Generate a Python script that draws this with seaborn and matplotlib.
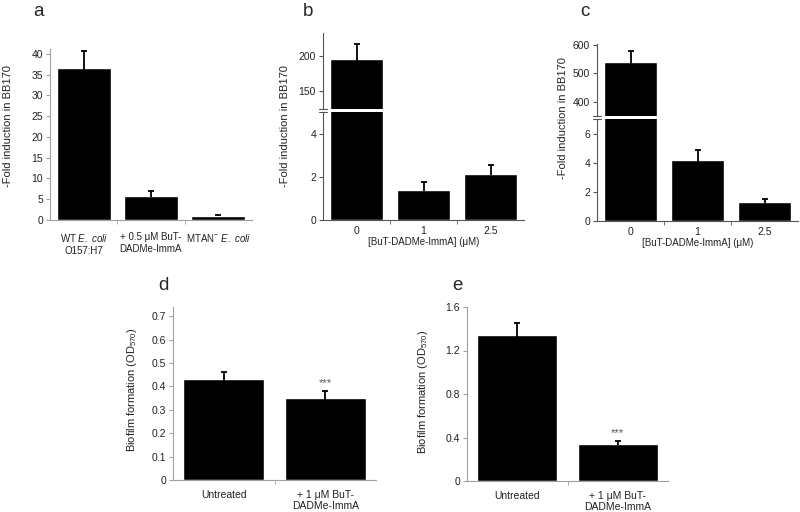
import matplotlib
matplotlib.use("Agg")
import matplotlib.pyplot as plt
import seaborn as sns
import numpy as np

sns.set_style("white")
plt.rcParams['font.family'] = ['Liberation Sans', 'DejaVu Sans']
plt.rcParams['mathtext.fontset'] = 'custom'
plt.rcParams['mathtext.rm'] = 'Liberation Sans'
plt.rcParams['mathtext.it'] = 'Liberation Sans:italic'

# ---- data ----
a_labels = ["WT $\\it{E.\\ coli}$\nO157:H7", "+ 0.5 \u03bcM BuT-\nDADMe-ImmA", "MTAN$^{-}$ $\\it{E.\\ coli}$"]
a_vals = [36.7, 5.7, 1.0]
a_err = [3.9, 1.4, 0.25]

conc_labels = ["0", "1", "2.5"]
b_vals = [196, 1.4, 2.15]
b_err = [21, 0.37, 0.4]
c_vals = [540, 4.2, 1.3]
c_err = [39, 0.7, 0.2]

bio_labels = ["Untreated", "+ 1 \u03bcM BuT-\nDADMe-ImmA"]
d_vals = [0.43, 0.35]
d_err = [0.032, 0.03]
e_vals = [1.34, 0.34]
e_err = [0.11, 0.03]

W, H = 800, 512
fig = plt.figure(figsize=(W / 100, H / 100), dpi=100)


def add_ax(l, t, r, b):
    return fig.add_axes([l / W, 1 - b / H, (r - l) / W, (b - t) / H])


def bars(ax, labels, vals, errs, spine_col, pad, tickfs=7.5, xfs=7.5):
    sns.barplot(x=labels, y=vals, ax=ax, color="black", width=0.8,
                errorbar=None, saturation=1)
    # upper error bars only, cap on top
    xs = np.arange(len(vals))
    tops = np.array(vals) + np.array(errs)
    ax.vlines(xs, np.array(vals) * 0.97, tops, color="black", lw=1.3)
    ax.scatter(xs, tops, marker="_", s=18, color="black", linewidths=1.3,
               zorder=3)
    ax.set_xlim(-0.5, len(vals) - 0.5)
    sns.despine(ax=ax)
    for s in ["left", "bottom"]:
        ax.spines[s].set_color(spine_col)
        ax.spines[s].set_linewidth(0.8)
    ax.set_xticks(np.arange(0.5, len(vals) - 0.5), minor=True)
    ax.tick_params(axis="x", which="major", length=0, pad=pad,
                   labelsize=xfs, labelcolor="#222222")
    ax.tick_params(axis="x", which="minor", length=3, color=spine_col,
                   direction="out", bottom=True)
    ax.tick_params(axis="y", length=3, color=spine_col, direction="out",
                   left=True, labelsize=tickfs, labelcolor="#222222", pad=2)
    ax.set_ylabel("")
    ax.set_xlabel("")


def fmt0(v):
    return "0" if v == 0 else ("%g" % v)


# ---- panel a ----
ax = add_ax(50, 49, 252, 220)
bars(ax, a_labels, a_vals, a_err, "#a0a0a0", 9, xfs=7)
ax.set_ylim(0, 41.2)
ax.set_yticks(range(0, 41, 5))


def broken(ax_up, ax_lo, labels, vals, errs, up_lim, up_ticks, lo_lim, lo_ticks):
    bars(ax_up, labels, vals, errs, "#555555", 4)
    bars(ax_lo, labels, vals, errs, "#555555", 4)
    ax_up.set_ylim(*up_lim)
    ax_up.set_yticks(up_ticks)
    ax_up.spines["bottom"].set_visible(False)
    ax_up.set_xticks([])
    ax_up.set_xticks([], minor=True)
    ax_lo.set_ylim(*lo_lim)
    ax_lo.set_yticks(lo_ticks)
    for a_, y in [(ax_up, 0), (ax_lo, 1)]:
        a_.plot([-0.02, 0.02], [y, y], transform=a_.transAxes,
                color="#555555", lw=0.8, clip_on=False)
    ax_lo.set_xlabel("[BuT-DADMe-ImmA] (\u03bcM)", fontsize=7,
                     color="#222222", labelpad=1)


# ---- panel b ----
bu = add_ax(323, 33, 524, 109)
bl = add_ax(323, 112, 524, 220)
broken(bu, bl, conc_labels, b_vals, b_err, (124, 233), [150, 200],
       (0, 5.0), [0, 2, 4])

# ---- panel c ----
cu = add_ax(597, 44, 798, 116)
cl = add_ax(597, 119, 798, 221)
broken(cu, cl, conc_labels, c_vals, c_err, (351, 603), [400, 500, 600],
       (0, 7.0), [0, 2, 4, 6])

# ---- panel d ----
axd = add_ax(173, 307, 376, 480)
bars(axd, bio_labels, d_vals, d_err, "#a0a0a0", 7)
axd.set_ylim(0, 0.74)
dt = [0, 0.1, 0.2, 0.3, 0.4, 0.5, 0.6, 0.7]
axd.set_yticks(dt)
axd.set_yticklabels([fmt0(v) for v in dt])
axd.annotate("***", (1, d_vals[1] + d_err[1]), xytext=(0, 2),
             textcoords="offset points", ha="center", va="bottom",
             fontsize=8, color="#555555")

# ---- panel e ----
axe = add_ax(467, 307, 668, 481)
bars(axe, bio_labels, e_vals, e_err, "#a0a0a0", 7)
axe.set_ylim(0, 1.6)
et = [0, 0.4, 0.8, 1.2, 1.6]
axe.set_yticks(et)
axe.set_yticklabels([fmt0(v) for v in et])
axe.annotate("***", (1, e_vals[1] + e_err[1]), xytext=(0, 2),
             textcoords="offset points", ha="center", va="bottom",
             fontsize=8, color="#555555")

# ---- y labels ----
fold = "-Fold induction in BB170"
bio = "Biofilm formation (OD$_{570}$)"
for x, y, t in [(8, 126, fold), (285, 126, fold), (563, 118, fold),
                (132, 390, bio), (423, 392, bio)]:
    fig.text(x / W, 1 - y / H, t, rotation=90, ha="center", va="center",
             fontsize=8, color="#222222")

# ---- panel letters ----
for x, y, t in [(38, 12, "a"), (308, 12, "b"), (585, 12, "c"),
                (163, 285, "d"), (457, 285, "e")]:
    fig.text(x / W, 1 - y / H, t, ha="center", va="center", fontsize=13.5)

fig.savefig("out.png", dpi=100)
